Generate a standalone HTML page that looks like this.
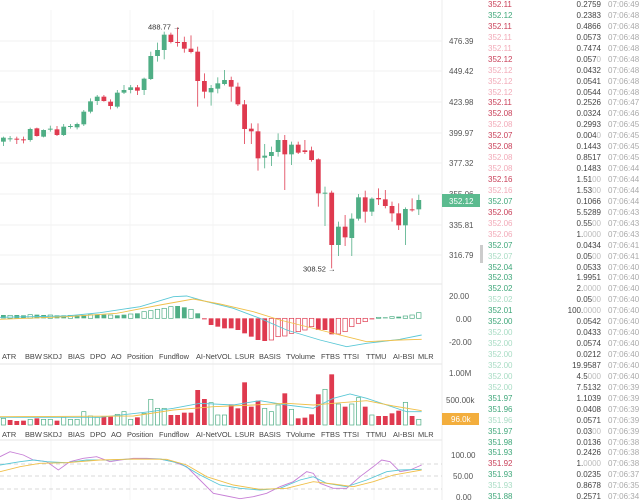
<!DOCTYPE html>
<html><head><meta charset="utf-8"><style>
body{margin:0;width:640px;height:500px;overflow:hidden;background:#fff;font-family:"Liberation Sans",sans-serif;position:relative}
svg{position:absolute;left:0;top:0}
#list{position:absolute;left:484px;top:0;width:156px;font-size:8px;line-height:10.95px}
.r{position:relative;height:10.95px;white-space:nowrap}
.p{position:absolute;left:4px}
.q{position:absolute;right:39px;color:#444}
.t{position:absolute;left:124px;color:#aaa}
.z{color:#bbb}
</style></head><body>
<svg id="s" width="484" height="500" viewBox="0 0 484 500" font-family="Liberation Sans, sans-serif"></svg>
<div id="list"></div>
<script>
const G='#4fae85',R='#df3a4f';
let h='';
h+='<rect x="0" y="0" width="484" height="500" fill="#fff"/>';
[41,71,102,133,163,194,225,255].forEach(y=>h+=`<line x1="0" x2="442" y1="${y}" y2="${y}" stroke="#f2f2f2"/>`);
[51,130,213,293,374].forEach(x=>h+=`<line x1="${x}" x2="${x}" y1="10" y2="500" stroke="#f4f4f4"/>`);
h+='<line x1="442" x2="442" y1="0" y2="500" stroke="#eee"/>';
[284,364,440].forEach(y=>h+=`<line x1="0" x2="442" y1="${y}" y2="${y}" stroke="#e6e6e6"/>`);
const C=[[413,425,410,438,'g'],[415,417,408,425,'g'],[416,418,410,432,'r'],[418,419,410,430,'r'],[387,420,383,425,'g'],[385,408,383,410,'r'],[390,410,388,412,'g'],[386,387,377,395,'g'],[388,405,378,408,'r'],[380,405,372,408,'g'],[378,379,372,386,'g'],[372,382,368,388,'g'],[335,373,330,378,'g'],[304,335,295,340,'g'],[290,303,285,315,'g'],[290,303,285,305,'r'],[305,318,298,328,'r'],[278,320,270,325,'g'],[270,278,255,282,'g'],[262,270,255,280,'g'],[262,272,255,285,'r'],[236,270,233,285,'g'],[168,237,155,240,'g'],[150,168,128,185,'g'],[104,150,95,178,'g'],[104,126,98,130,'r'],[126,127,82,140,'r'],[126,146,110,158,'r'],[146,156,106,160,'r'],[155,243,140,320,'r'],[243,275,220,295,'r'],[264,277,255,317,'g'],[250,266,232,280,'g'],[240,252,210,256,'g'],[240,260,230,305,'r'],[260,313,248,318,'r'],[313,387,300,432,'r'],[386,394,370,432,'r'],[394,475,370,512,'r'],[467,473,432,505,'g'],[456,468,440,498,'g'],[420,456,400,470,'g'],[420,463,405,570,'r'],[434,463,425,495,'g'],[434,458,425,462,'r'],[451,456,420,462,'r'],[451,480,440,485,'r'],[478,580,475,620,'r'],[578,579,560,678,'g'],[578,735,572,805,'r'],[680,735,665,768,'g'],[680,712,645,738,'r'],[656,714,640,768,'g'],[592,656,582,662,'g'],[592,635,572,668,'r'],[596,635,592,648,'g'],[594,598,565,615,'r'],[598,618,570,625,'r'],[618,640,605,665,'r'],[640,676,610,690,'r'],[627,676,622,735,'g'],[628,629,595,635,'r'],[600,628,584,645,'g']];
const X=i=>3.4+i*6.7;
C.forEach((c,i)=>{const col=c[4]=='g'?G:R,x=X(i);h+=`<line x1="${x}" x2="${x}" y1="${c[2]/3}" y2="${c[3]/3}" stroke="${col}" stroke-width="0.8"/><rect x="${x-2.4}" y="${c[0]/3}" width="4.8" height="${Math.max(1,(c[1]-c[0])/3)}" fill="${col}"/>`});
h+='<text x="148" y="29.5" font-size="7.5" fill="#333">488.77 →</text><text x="303" y="271.5" font-size="7.5" fill="#333">308.52 →</text>';
[[476.39,41],[449.42,71],[423.98,102],[399.97,133],[377.32,163],[355.06,194],[335.81,225],[316.79,255]].forEach(a=>h+=`<text x="449" y="${a[1]+3}" font-size="8" fill="#555">${a[0].toFixed(2)}</text>`);
h+=`<rect x="442" y="194" width="38" height="13" fill="#5bbb8f"/><text x="449" y="204" font-size="8" fill="#fff">352.12</text>`;
const mh=[105,106,105,106,104,104,105,105,106,106,106,106,105,104,103,104,105,106,104,102,100,95,92,88,85,80,78,82,88,100,118,135,140,145,145,150,160,170,180,183,180,170,168,160,155,150,140,150,150,163,162,155,140,130,125,116,112,112,110,110,108,105,98];
mh.forEach((v,i)=>{const y=280+v/3,b=280+115/3,x=X(i);const top=Math.min(y,b),ht=Math.max(1,Math.abs(y-b));const pos=v<115;const col=pos?G:R;const hollow=pos?(i%3==1||i>=21&&i<=25||i>=56&&i%2==0):(i>=40&&i<=46||i>=50&&i<=54);
h+=hollow?`<rect x="${x-2.2}" y="${top}" width="4.4" height="${ht}" fill="#fff" stroke="${col}" stroke-width="0.7"/>`:`<rect x="${x-2.4}" y="${top}" width="4.8" height="${ht}" fill="${col}"/>`});
const pl=(pts,col,off)=>`<polyline fill="none" stroke="${col}" stroke-width="0.9" points="${pts.map(p=>p[0]/3+','+(off+p[1]/3)).join(' ')}"/>`;
h+=pl([[0,112],[200,108],[300,98],[420,80],[520,50],[560,48],[620,65],[700,85],[780,115],[860,150],[960,180],[1040,200],[1100,190],[1200,178],[1265,165]],'#5bc8d6',280);
h+=pl([[0,118],[200,110],[350,100],[480,75],[580,57],[660,72],[760,95],[840,120],[960,150],[1040,170],[1100,185],[1200,180],[1265,178]],'#f0c04a',280);
[[' 20.00',296],[' 0.00',319],['-20.00',342]].forEach(a=>h+=`<text x="${a[0]==' 0.00'?456:449}" y="${a[1]+3}" font-size="8" fill="#555">${a[0].trim()}</text>`);
const tabs=[['ATR',2],['BBW',25],['SKDJ',43],['BIAS',68],['DPO',90],['AO',111],['Position',127],['Fundflow',159],['AI-NetVOL',196],['LSUR',235],['BASIS',259],['TVolume',286],['FTBS',321],['TTSI',343],['TTMU',366],['AI-BSI',393],['MLR',418]];
[359,437].forEach(y=>tabs.forEach(t=>h+=`<text x="${t[1]}" y="${y}" font-size="7.4" fill="#444">${t[0]}</text>`));
const V=[[415,'g'],[420,'r'],[423,'r'],[422,'r'],[418,'g'],[415,'r'],[418,'g'],[418,'g'],[422,'r'],[412,'g'],[418,'g'],[418,'g'],[395,'g'],[408,'g'],[412,'g'],[410,'r'],[410,'r'],[403,'g'],[395,'g'],[418,'g'],[412,'r'],[400,'g'],[358,'g'],[385,'g'],[385,'g'],[405,'r'],[405,'r'],[398,'r'],[398,'r'],[330,'r'],[357,'r'],[368,'g'],[405,'g'],[405,'g'],[373,'r'],[385,'r'],[307,'r'],[380,'r'],[362,'r'],[385,'g'],[395,'g'],[375,'g'],[340,'r'],[388,'g'],[415,'r'],[413,'r'],[403,'r'],[343,'r'],[328,'g'],[283,'r'],[372,'g'],[380,'r'],[372,'g'],[353,'g'],[380,'r'],[405,'g'],[408,'r'],[408,'r'],[400,'r'],[392,'r'],[367,'g'],[408,'r'],[418,'g']];
V.forEach((v,i)=>{const y=280+v[0]/3,b=425,x=X(i);h+=v[1]=='r'?`<rect x="${x-2.4}" y="${y}" width="4.8" height="${b-y}" fill="${R}"/>`:`<rect x="${x-2.1}" y="${y}" width="4.2" height="${b-y}" fill="#fff" stroke="${G}" stroke-width="0.7"/>`});
h+=pl([[0,412],[300,412],[450,395],[520,385],[600,370],[700,375],[780,362],[860,375],[940,385],[1000,355],[1050,342],[1100,355],[1160,375],[1220,395],[1265,395]],'#5bc8d6',280);
h+=pl([[0,410],[400,408],[520,390],[640,380],[760,375],[860,370],[940,375],[1000,370],[1100,362],[1180,378],[1265,392]],'#f0c04a',280);
h+=`<text x="449" y="376" font-size="8" fill="#555">1.00M</text><text x="446" y="403" font-size="8" fill="#555">500.00k</text>`;
h+=`<rect x="442" y="413" width="37" height="12" fill="#f3ae3d"/><text x="451" y="422" font-size="8" fill="#fff">96.0k</text>`;
[464,476,489].forEach(y=>h+=`<line x1="0" x2="442" y1="${y}" y2="${y}" stroke="#ccc" stroke-dasharray="4,3" stroke-width="0.7"/>`);
h+=pl([[0,530],[30,515],[70,525],[100,540],[140,545],[175,570],[210,545],[250,535],[290,530],[330,545],[360,540],[400,535],[440,535],[480,537],[520,545],[560,560],[600,600],[640,640],[680,648],[720,656],[760,650],[800,640],[840,620],[880,605],[920,575],[940,580],[960,610],[1000,625],[1040,625],[1080,590],[1120,560],[1145,540],[1170,545],[1200,575],[1230,570],[1265,555]],'#c77fd6',280);
h+=pl([[0,555],[60,545],[100,540],[140,545],[200,548],[260,540],[330,540],[400,537],[480,537],[540,550],[600,585],[660,615],[720,625],[780,630],[840,625],[900,600],[940,590],[980,610],[1040,620],[1100,600],[1160,575],[1200,570],[1265,568]],'#5bc8d6',280);
h+=pl([[0,575],[60,560],[120,550],[200,548],[300,540],[400,537],[500,538],[560,555],[620,590],[700,615],[780,628],[860,625],[940,605],[1000,612],[1060,620],[1120,605],[1180,585],[1220,578],[1265,570]],'#f0c04a',280);
h+=`<text x="451" y="458" font-size="8" fill="#555">100.00</text><text x="453" y="479" font-size="8" fill="#555">50.00</text><text x="456" y="500" font-size="8" fill="#555">0.00</text>`;
h+='<rect x="480" y="245" width="3" height="18" fill="#ccc"/>';
document.getElementById('s').innerHTML=h;
const cols={r:'#c9415a',p:'#f2aab8',g:'#3fa77a',l:'#a8dcc4'};
const L=`352.11 r 0.2759 49|352.12 g 0.2383 48|352.11 r 0.4866 48|352.11 p 0.0573 48|352.11 p 0.7474 48|352.12 r 0.0570 48|352.12 p 0.0432 48|352.12 p 0.0541 48|352.12 p 0.0544 48|352.11 r 0.2526 47|352.08 r 0.0324 46|352.08 p 0.2993 45|352.07 r 0.0040 45|352.08 r 0.1443 45|352.08 p 0.8517 45|352.08 p 0.1483 44|352.16 r 1.5100 44|352.16 p 1.5300 44|352.07 g 0.1066 44|352.06 r 5.5289 43|352.06 p 0.5500 43|352.06 p 1.0000 43|352.07 g 0.0434 41|352.07 l 0.0500 41|352.04 g 0.0533 40|352.03 g 1.9951 40|352.02 g 2.0000 40|352.02 l 0.0500 40|352.01 g 100.0000 40|352.00 g 0.0542 40|352.00 l 0.0433 40|352.00 l 0.0574 40|352.00 l 0.0212 40|352.00 l 19.9587 40|352.00 l 4.5000 40|352.00 l 7.5132 39|351.97 g 1.1039 39|351.96 g 0.0408 39|351.96 l 0.0571 39|351.97 g 0.0300 39|351.98 g 0.0136 38|351.93 g 0.2426 38|351.92 r 1.0000 38|351.93 g 0.0235 37|351.93 l 0.8678 35|351.88 g 0.2571 34`;
let o='';
L.split('|').forEach(r=>{const [p,c,q,t]=r.split(' ');const m=q.match(/^(.*?)(0*)$/);o+=`<div class="r"><span class="p" style="color:${cols[c]}">${p}</span><span class="q">${m[1]}<span class="z">${m[2]}</span></span><span class="t">07:06:${t}</span></div>`});
document.getElementById('list').innerHTML=o;
</script>
</body></html>
